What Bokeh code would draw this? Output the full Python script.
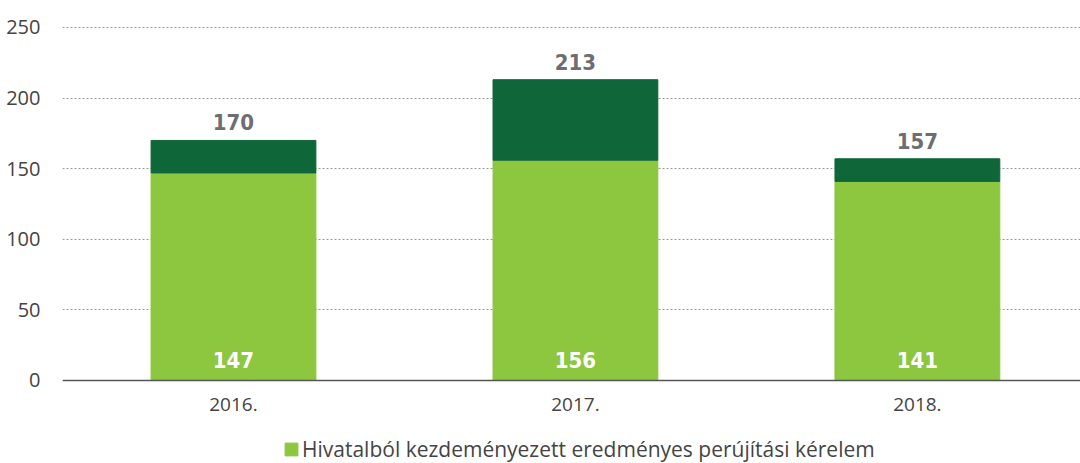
from bokeh.plotting import figure
from bokeh.models import ColumnDataSource, Legend, LegendItem, FixedTicker, Range1d
from bokeh.core.properties import value
from bokeh.embed import file_html
from bokeh.resources import INLINE

years = ["2016.", "2017.", "2018."]
base_vals = [147, 156, 141]
totals = [170, 213, 157]
extra_vals = [t - b for t, b in zip(totals, base_vals)]
legend_label = "Hivatalból kezdeményezett eredményes perújítási kérelem"
y_ticks = [0, 50, 100, 150, 200, 250]

LIGHT = "#8dc63f"
DARK = "#0f6638"
BOLD_FONT = "'DejaVu Sans Condensed', 'Liberation Sans Narrow', Roboto, sans-serif"

xs = list(range(len(years)))
src = ColumnDataSource(dict(
    x=xs, base=base_vals, extra=extra_vals, total=totals,
    zero=[0] * len(xs),
    base_txt=[str(v) for v in base_vals],
    total_txt=[str(v) for v in totals],
))

p = figure(width=1080, height=463, output_backend="svg", toolbar_location=None,
           x_range=Range1d(-0.5, 2.477), y_range=Range1d(-58.8, 269.1),
           min_border_left=62, min_border_right=0, min_border_top=0,
           min_border_bottom=0)
p.outline_line_color = None

w = 0.482
r1 = p.vbar(x="x", bottom=0, top="base", width=w, color=LIGHT, source=src)
p.vbar(x="x", bottom="base", top="total", width=w, color=DARK, source=src)

p.text(x="x", y="zero", text="base_txt", source=src, text_color="white",
       text_font=value(BOLD_FONT), text_font_style="bold",
       text_font_size="22px", text_align="center", text_baseline="middle",
       y_offset=-20)
p.text(x="x", y="total", text="total_txt", source=src, text_color="#6d6e71",
       text_font=value(BOLD_FONT), text_font_style="bold",
       text_font_size="22px", text_align="center", text_baseline="middle",
       y_offset=-18)

p.xaxis.ticker = FixedTicker(ticks=xs)
p.xaxis.fixed_location = 0
p.xaxis.major_label_overrides = {i: y for i, y in enumerate(years)}
p.xaxis.major_tick_line_color = None
p.xaxis.minor_tick_line_color = None
p.xaxis.axis_line_color = "#555555"
p.xaxis.axis_line_width = 1.5
p.xaxis.major_label_text_font = "Open Sans"
p.xaxis.major_label_text_font_size = "19px"
p.xaxis.major_label_text_color = "#444444"
p.xaxis.major_label_standoff = 12

p.yaxis.ticker = FixedTicker(ticks=y_ticks)
p.yaxis.axis_line_color = None
p.yaxis.major_tick_line_color = None
p.yaxis.minor_tick_line_color = None
p.yaxis.major_label_text_font = "Open Sans"
p.yaxis.major_label_text_font_size = "20px"
p.yaxis.major_label_text_color = "#444444"
p.yaxis.major_label_standoff = 16

p.xgrid.grid_line_color = None
p.ygrid.grid_line_color = "#999999"
p.ygrid.grid_line_dash = "2 2"
p.ygrid.grid_line_width = 1

legend = Legend(items=[LegendItem(label=legend_label, renderers=[r1])],
                orientation="horizontal", location=(221, 0),
                label_text_font="Open Sans", label_text_font_size="21px",
                label_text_color="#444444", glyph_width=16, glyph_height=16,
                label_standoff=3, border_line_color=None, padding=0, margin=0,
                background_fill_alpha=0)
p.add_layout(legend, "center")

open("out.html", "w").write(file_html(p, INLINE))
